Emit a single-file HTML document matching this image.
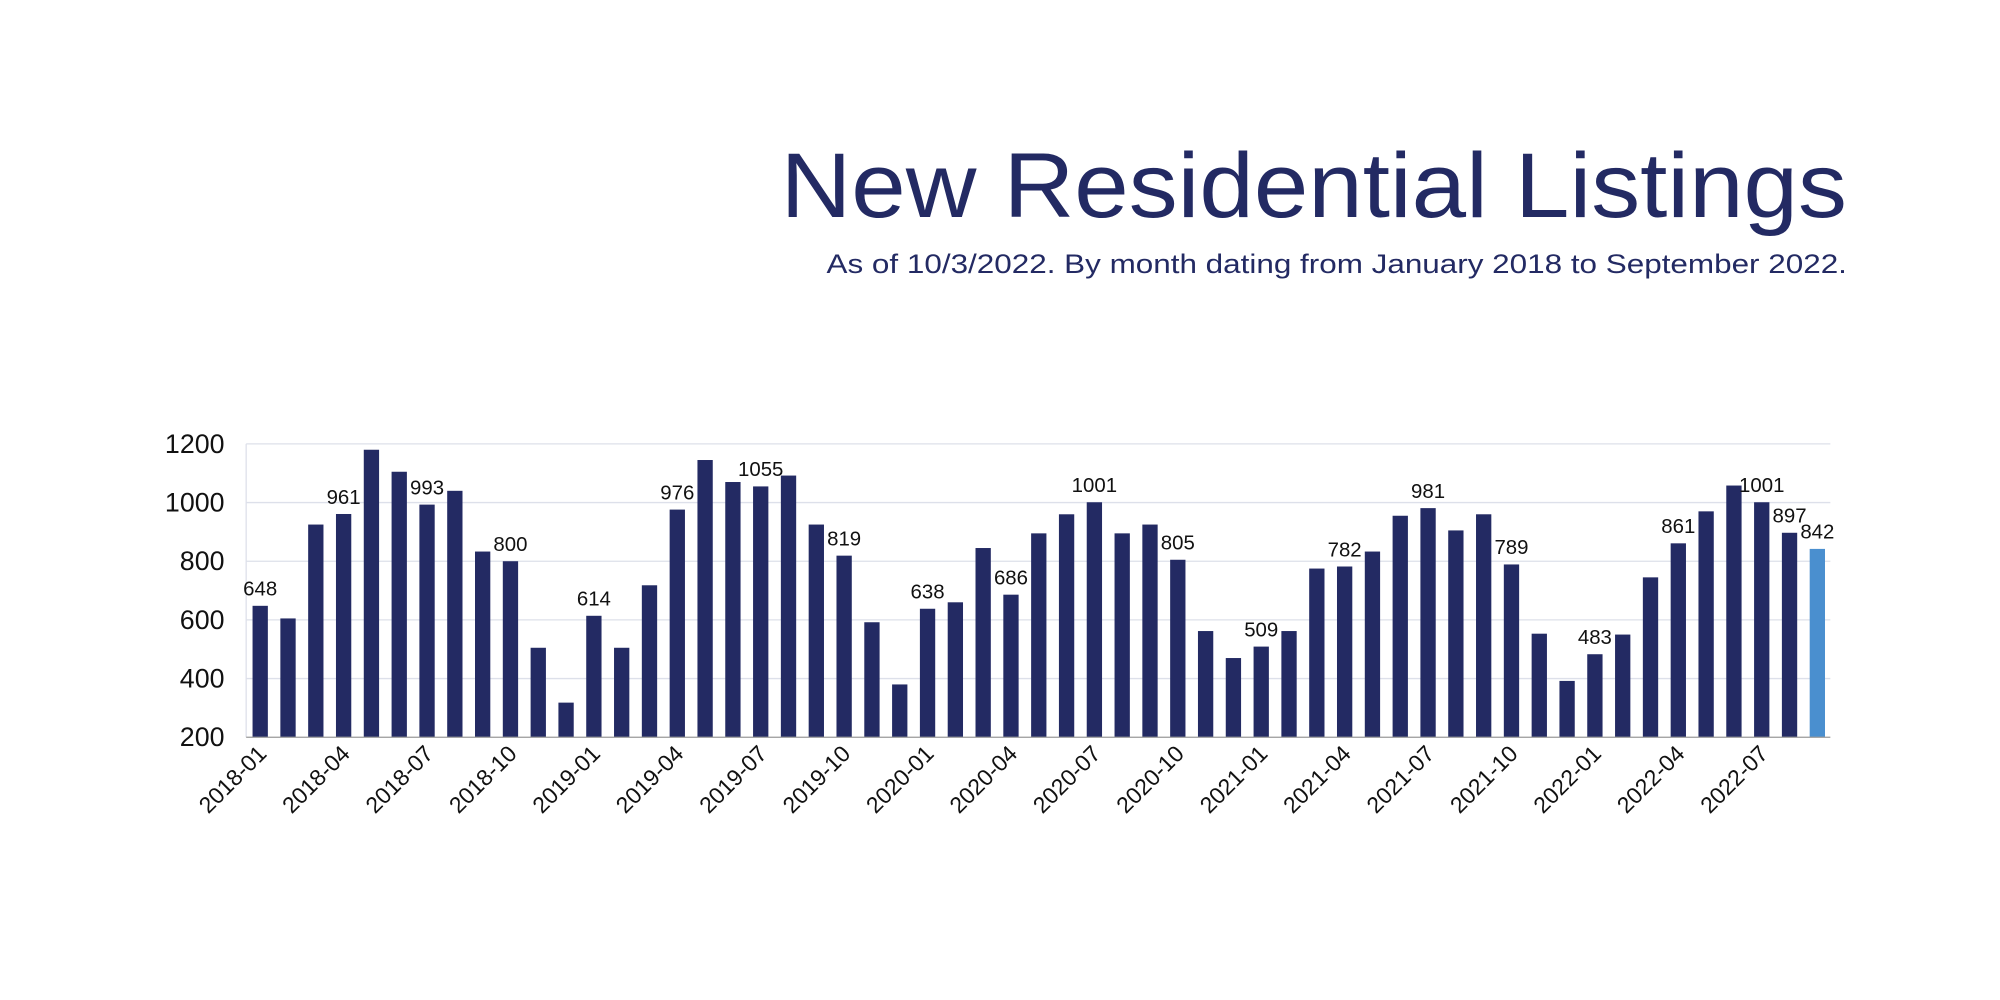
<!DOCTYPE html>
<html><head><meta charset="utf-8"><style>
html,body{margin:0;padding:0;background:#fff;width:2000px;height:1000px;overflow:hidden}
svg{display:block}
text{font-family:"Liberation Sans",Arial,sans-serif}
</style></head><body>
<svg id="s" width="2000" height="1000" viewBox="0 0 1568 784" xmlns="http://www.w3.org/2000/svg">
<rect width="1568" height="784" fill="#fff"/>
<text x="612" y="170" font-size="72" fill="#232a63" textLength="836" lengthAdjust="spacingAndGlyphs">New Residential Listings</text>
<text x="648" y="214" font-size="21" fill="#232a63" textLength="800" lengthAdjust="spacingAndGlyphs">As of 10/3/2022. By month dating from January 2018 to September 2022.</text>
<g id="g"></g>
</svg>
<script>
var v=[648,605,925,961,1180,1105,993,1040,833,800,505,318,
614,505,718,976,1145,1070,1055,1092,925,819,592,380,
638,660,845,686,895,960,1001,895,925,805,562,470,
509,562,775,782,833,955,981,905,960,789,553,392,
483,550,745,861,970,1058,1001,897,842];
var lab={0:1,3:1,6:1,9:1,12:1,15:1,18:1,21:1,24:1,27:1,30:1,33:1,36:1,39:1,42:1,45:1,48:1,51:1,54:1,55:1,56:1};
var h='';
function Y(x){return 578-(x-200)*0.23;}
for(var t=200;t<=1200;t+=200){var y=Y(t);
 if(t>200)h+='<line x1="193" x2="1435" y1="'+y+'" y2="'+y+'" stroke="#dde0ea" stroke-width="1"/>';
 h+='<text x="176" y="'+(y+7)+'" text-anchor="end" font-size="21" fill="#111">'+t+'</text>';}
h+='<line x1="193" x2="193" y1="348" y2="578" stroke="#dde0ea"/>';
for(var i=0;i<v.length;i++){var cx=204+i*21.8,y=Y(v[i]);
 h+='<rect x="'+(cx-6)+'" y="'+y+'" width="12" height="'+(578-y)+'" fill="'+(i==56?'#4a8fcf':'#232a63')+'"/>';
 if(lab[i])h+='<text x="'+cx+'" y="'+(y-8)+'" text-anchor="middle" font-size="16" fill="#111">'+v[i]+'</text>';
 if(i%3==0){var yr=2018+Math.floor(i/12),m=i%12+1;
  h+='<text transform="translate('+(cx+6)+',592) rotate(-45)" text-anchor="end" font-size="18" fill="#111">'+yr+'-'+(m<10?'0':'')+m+'</text>';}
}
h+='<line x1="193" x2="1435" y1="578" y2="578" stroke="#9a9a9a" stroke-width="1"/>';
document.getElementById('g').innerHTML=h;
</script>
</body></html>
